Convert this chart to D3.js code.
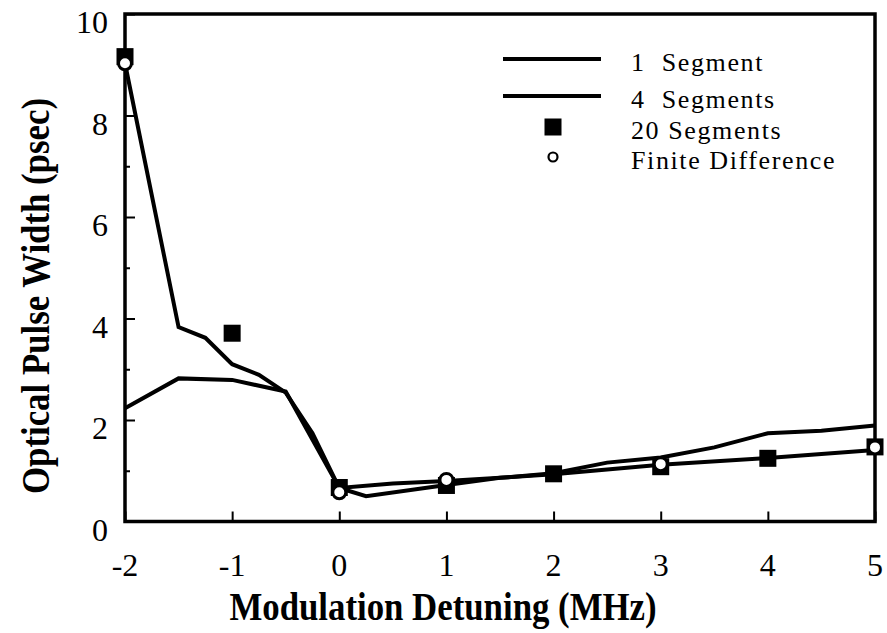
<!DOCTYPE html>
<html>
<head>
<meta charset="utf-8">
<script src="https://cdn.jsdelivr.net/npm/d3@7"></script>
<style>
  body { margin: 0; background: #fff; }
  svg text { font-family: "Liberation Serif", "Times New Roman", serif; fill: #000; }
</style>
</head>
<body>
<div id="chart"></div>
<script>
const width = 887;
const height = 633;

// detuning (MHz) / pulse width (psec)
const oneSegment = [
  [-2, 2.23], [-1.5, 2.82], [-1, 2.79], [-0.5, 2.56], [0, 0.66],
  [0.5, 0.75], [1, 0.8], [1.5, 0.86], [2, 0.93], [3, 1.12], [4, 1.25], [5, 1.41]
];
const fourSegments = [
  [-2, 9.03], [-1.5, 3.83], [-1.25, 3.62], [-1, 3.1], [-0.75, 2.89], [-0.5, 2.54],
  [-0.25, 1.74], [0, 0.66], [0.25, 0.5], [1, 0.72], [1.5, 0.86], [2, 0.95],
  [2.5, 1.16], [3, 1.26], [3.5, 1.46], [4, 1.74], [4.5, 1.79], [5, 1.89]
];
const twentySegments = [
  [-2, 9.16], [-1, 3.71], [0, 0.67], [1, 0.71], [2, 0.94], [3, 1.08], [4, 1.245], [5, 1.47]
];
const finiteDiff = [
  [-2, 9.03], [0, 0.575], [1, 0.82], [3, 1.13], [5, 1.46]
];
const xTicks = [-2, -1, 0, 1, 2, 3, 4, 5];
const yTicks = [0, 2, 4, 6, 8, 10];
const yMinor = [1, 3, 5, 7, 9];

const svg = d3.select("#chart")
  .append("svg")
  .attr("width", width)
  .attr("height", height);

const xScale = d3.scaleLinear().domain([-2, 5]).range([125, 875]);
const yScale = d3.scaleLinear().domain([0, 10]).range([521.5, 14]);

// lines
const lineGenerator = d3.line()
  .x(d => xScale(d[0]))
  .y(d => yScale(d[1]));

[oneSegment, fourSegments].forEach(series => {
  svg.append("path")
    .attr("d", lineGenerator(series))
    .attr("fill", "none")
    .attr("stroke", "#000")
    .attr("stroke-width", 4)
    .attr("stroke-linejoin", "miter");
});

// frame
svg.append("rect")
  .attr("x", xScale(-2))
  .attr("y", yScale(10))
  .attr("width", xScale(5) - xScale(-2))
  .attr("height", yScale(0) - yScale(10))
  .attr("fill", "none")
  .attr("stroke", "#000")
  .attr("stroke-width", 3.5);

// y axis, inward ticks
svg.append("g")
  .attr("transform", `translate(${xScale(-2)},0)`)
  .call(d3.axisRight(yScale).tickValues(yTicks).tickSize(10).tickFormat(""))
  .call(g => g.select(".domain").remove())
  .call(g => g.selectAll("line").attr("stroke-width", 2));

svg.append("g")
  .attr("transform", `translate(${xScale(-2)},0)`)
  .call(d3.axisRight(yScale).tickValues(yMinor).tickSize(5).tickFormat(""))
  .call(g => g.select(".domain").remove())
  .call(g => g.selectAll("line").attr("stroke-width", 2));

svg.selectAll(".ylab")
  .data(yTicks)
  .join("text")
  .attr("class", "ylab")
  .attr("x", 108)
  .attr("y", d => yScale(d) + 19)
  .attr("text-anchor", "end")
  .attr("font-size", 32)
  .text(d => d);

// x axis, inward ticks
svg.append("g")
  .attr("transform", `translate(0,${yScale(0)})`)
  .call(d3.axisTop(xScale).tickValues(xTicks).tickSize(10).tickFormat(""))
  .call(g => g.select(".domain").remove())
  .call(g => g.selectAll("line").attr("stroke-width", 2));

svg.selectAll(".xlab")
  .data(xTicks)
  .join("text")
  .attr("class", "xlab")
  .attr("x", d => xScale(d))
  .attr("y", 576)
  .attr("text-anchor", "middle")
  .attr("font-size", 32)
  .text(d => d);

// axis titles (condensed bold, like the original)
svg.append("text")
  .attr("transform", "translate(443,620) scale(0.87,1)")
  .attr("text-anchor", "middle")
  .attr("font-size", 40)
  .attr("font-weight", "bold")
  .text("Modulation Detuning (MHz)");

svg.append("text")
  .attr("transform", "translate(49,296) rotate(-90) scale(0.87,1)")
  .attr("text-anchor", "middle")
  .attr("font-size", 40)
  .attr("font-weight", "bold")
  .text("Optical Pulse Width (psec)");

// markers
const sq = 17;
svg.selectAll(".sq")
  .data(twentySegments)
  .join("rect")
  .attr("class", "sq")
  .attr("x", d => xScale(d[0]) - sq / 2)
  .attr("y", d => yScale(d[1]) - sq / 2)
  .attr("width", sq)
  .attr("height", sq)
  .attr("fill", "#000");

svg.selectAll(".fd")
  .data(finiteDiff)
  .join("circle")
  .attr("class", "fd")
  .attr("cx", d => xScale(d[0]))
  .attr("cy", d => yScale(d[1]))
  .attr("r", 6.5)
  .attr("fill", "#fff")
  .attr("stroke", "#000")
  .attr("stroke-width", 3);

// legend
const legend = svg.append("g");
const legendRows = [
  { label: "1  Segment", type: "line", y: 59 },
  { label: "4  Segments", type: "line", y: 96 },
  { label: "20 Segments", type: "square", y: 127 },
  { label: "Finite Difference", type: "circle", y: 157 }
];

legendRows.forEach(r => {
  if (r.type === "line") {
    legend.append("line")
      .attr("x1", 503).attr("x2", 601)
      .attr("y1", r.y).attr("y2", r.y)
      .attr("stroke", "#000")
      .attr("stroke-width", 4);
  } else if (r.type === "square") {
    legend.append("rect")
      .attr("x", 553 - 8.5).attr("y", r.y - 8.5)
      .attr("width", 17).attr("height", 17)
      .attr("fill", "#000");
  } else {
    legend.append("circle")
      .attr("cx", 553).attr("cy", r.y)
      .attr("r", 4.5)
      .attr("fill", "#fff")
      .attr("stroke", "#000")
      .attr("stroke-width", 2.2);
  }
  legend.append("text")
    .attr("x", 631)
    .attr("y", r.y + 12)
    .attr("font-size", 26)
    .attr("letter-spacing", 1.6)
    .style("white-space", "pre")
    .text(r.label);
});
</script>
</body>
</html>
